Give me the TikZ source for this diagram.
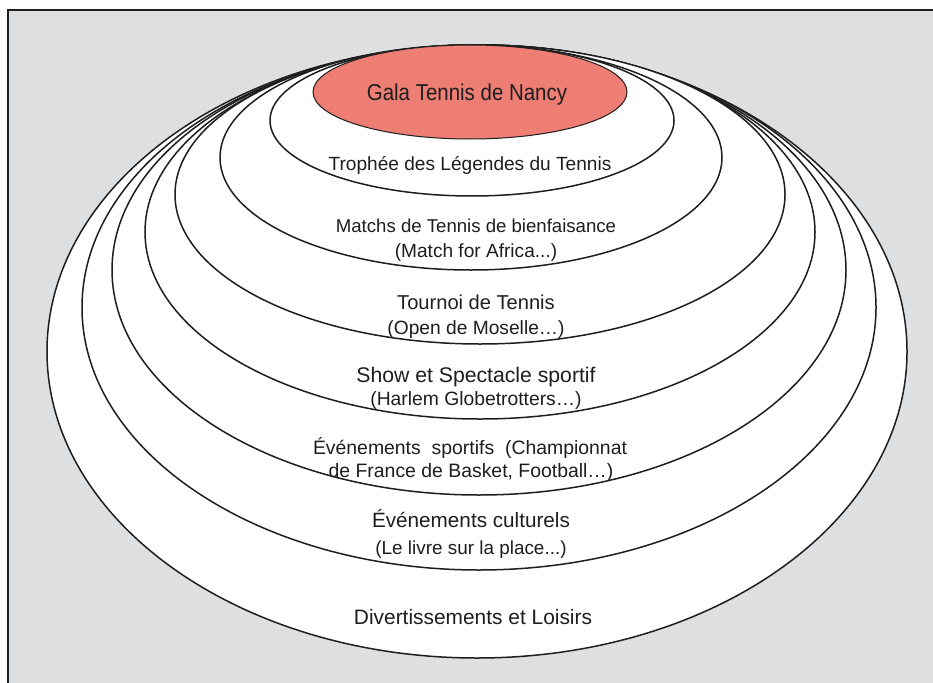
\documentclass[tikz,border=0pt]{standalone}
\usepackage{fontspec}
\setmainfont{Liberation Sans}
\definecolor{bgray}{HTML}{DEDFE1}
\definecolor{galared}{HTML}{EE7E74}
\definecolor{ink}{HTML}{1E1E1E}
\newcommand\fsz[1]{\fontsize{#1}{#1}\selectfont}
\begin{document}
\begin{tikzpicture}[x=1pt,y=-1pt,
  ring/.style={draw=ink, line width=1.5pt, fill=white},
  lbl/.style={anchor=base, inner sep=0pt, text=ink}]
\useasboundingbox (0,0) rectangle (933,682);
\fill[white] (0,0) rectangle (933,682);
\draw[fill=bgray, draw=ink, line width=1.5pt] (8,10) rectangle (945,695);
% nested rings, outermost first
\path[ring] (477,351.5) ellipse [x radius=430, y radius=306.5];
\path[ring] (479,307.5) ellipse [x radius=397, y radius=262.5];
\path[ring] (479,270)   ellipse [x radius=367, y radius=225];
\path[ring] (480,232)   ellipse [x radius=335, y radius=187];
\path[ring] (480,194.5) ellipse [x radius=305, y radius=149.5];
\path[ring] (471,157.5) ellipse [x radius=251, y radius=112.5];
\path[ring] (472,120.5) ellipse [x radius=202, y radius=75.5];
\path[draw=ink, line width=1pt, fill=galared] (470,92) ellipse [x radius=157, y radius=47];
% labels
\node[lbl] (gala) at (467,100) {\scalebox{0.89}[1]{\fsz{23}Gala Tennis de Nancy}};
\node[lbl] (trophee) at (470,170) {\fsz{19.1}Trophée des Légendes du Tennis};
\node[lbl] (matchsA) at (476,232) {\fsz{18.6}Matchs de Tennis de bienfaisance};
\node[lbl] (matchsB) at (476,257) {\fsz{19.1}(Match for Africa...)};
\node[lbl] (tournoiA) at (476,309) {\fsz{20.1}Tournoi de Tennis};
\node[lbl] (tournoiB) at (476,334) {\fsz{19.2}(Open de Moselle…)};
\node[lbl] (showA) at (476,382) {\fsz{21.2}Show et Spectacle sportif};
\node[lbl] (showB) at (476,405) {\fsz{19.3}(Harlem Globetrotters…)};
\node[lbl] (sportA) at (470,454) {\fsz{19.4}\makebox[314pt][s]{Événements sportifs (Championnat}};
\node[lbl] (sportB) at (471,477) {\fsz{19.4}de France de Basket, Football…)};
\node[lbl] (cultA) at (471,527) {\fsz{20.7}Événements culturels};
\node[lbl] (cultB) at (471,554) {\fsz{18.9}(Le livre sur la place...)};
\node[lbl] (divert) at (473,624) {\fsz{20.9}Divertissements et Loisirs};
\end{tikzpicture}
\end{document}
